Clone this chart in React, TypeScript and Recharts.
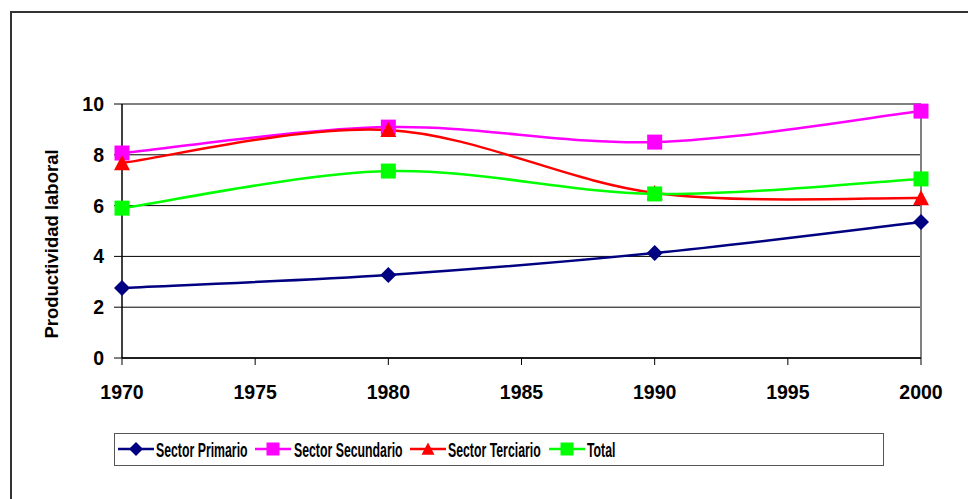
import React from "react";
import {
  LineChart,
  Line,
  XAxis,
  YAxis,
  CartesianGrid,
  ReferenceLine,
} from "recharts";

// datos
const years = [1970, 1980, 1990, 2000];
const primario = [2.76, 3.27, 4.13, 5.35];
const secundario = [8.07, 9.09, 8.5, 9.72];
const terciario = [7.68, 8.98, 6.5, 6.3];
const total = [5.9, 7.36, 6.46, 7.05];
const xTicks = [1970, 1975, 1980, 1985, 1990, 1995, 2000];
const yTicks = [0, 2, 4, 6, 8, 10];

const data = years.map((year, i) => ({
  year,
  primario: primario[i],
  secundario: secundario[i],
  terciario: terciario[i],
  total: total[i],
}));

const COLORS = {
  primario: "#000080",
  secundario: "#FF00FF",
  terciario: "#FF0000",
  total: "#00FF00",
};

const FONT = "'Liberation Sans', Arial, sans-serif";

// suavizado tipo Excel (Catmull-Rom)
const excelSmooth = (context: any) => {
  let pts: [number, number][] = [];
  return {
    areaStart() {},
    areaEnd() {},
    lineStart() {
      pts = [];
    },
    point(x: number, y: number) {
      pts.push([+x, +y]);
    },
    lineEnd() {
      if (!pts.length) return;
      context.moveTo(pts[0][0], pts[0][1]);
      for (let i = 0; i < pts.length - 1; i++) {
        const p0 = pts[i - 1] || pts[i];
        const p1 = pts[i];
        const p2 = pts[i + 1];
        const p3 = pts[i + 2] || pts[i + 1];
        context.bezierCurveTo(
          p1[0] + (p2[0] - p0[0]) / 6,
          p1[1] + (p2[1] - p0[1]) / 6,
          p2[0] - (p3[0] - p1[0]) / 6,
          p2[1] - (p3[1] - p1[1]) / 6,
          p2[0],
          p2[1]
        );
      }
    },
  };
};

type Shape = "diamond" | "square" | "triangle";

function markerPath(shape: Shape, cx: number, cy: number, r: number) {
  if (shape === "diamond")
    return `M${cx} ${cy - r}L${cx + r} ${cy}L${cx} ${cy + r}L${cx - r} ${cy}Z`;
  if (shape === "triangle")
    return `M${cx} ${cy - r}L${cx + r} ${cy + r * 0.9}L${cx - r} ${cy + r * 0.9}Z`;
  return `M${cx - r} ${cy - r}H${cx + r}V${cy + r}H${cx - r}Z`;
}

const makeDot = (shape: Shape, color: string, r: number) => (props: any) => {
  const { cx, cy, index } = props;
  if (cx == null || cy == null) return <g key={index} />;
  return <path key={index} d={markerPath(shape, cx, cy, r)} fill={color} />;
};

// la leyenda del original está comprimida en horizontal
const LEGEND_SCALE_X = 0.615;

const legendItems = [
  { name: "Sector Primario", color: COLORS.primario, shape: "diamond" as Shape, lx: 118, tx: 156 },
  { name: "Sector Secundario", color: COLORS.secundario, shape: "square" as Shape, lx: 255, tx: 294 },
  { name: "Sector Terciario", color: COLORS.terciario, shape: "triangle" as Shape, lx: 410, tx: 448 },
  { name: "Total", color: COLORS.total, shape: "square" as Shape, lx: 549, tx: 587 },
];

function ChartLegend() {
  return (
    <svg
      width={968}
      height={499}
      style={{ position: "absolute", left: 0, top: 0, pointerEvents: "none" }}
    >
      <rect x={114.5} y={433.5} width={769} height={32} fill="#fff" stroke="#555" strokeWidth={1} />
      {legendItems.map((item) => (
        <g key={item.name}>
          <line x1={item.lx} x2={item.lx + 36} y1={449} y2={449} stroke={item.color} strokeWidth={2.5} />
          <path d={markerPath(item.shape, item.lx + 18, 449, item.shape === "diamond" ? 7 : 6.5)} fill={item.color} />
          <text
            transform={`translate(${item.tx}, 456.5) scale(${LEGEND_SCALE_X}, 1)`}
            fontFamily={FONT}
            fontWeight="bold"
            fontSize={20}
            fill="#000"
          >
            {item.name}
          </text>
        </g>
      ))}
    </svg>
  );
}

const YLabel = () => (
  <text
    x={58}
    y={244}
    transform="rotate(-90, 58, 244)"
    textAnchor="middle"
    fontFamily={FONT}
    fontWeight="bold"
    fontSize={18.5}
    fill="#000"
  >
    Productividad laboral
  </text>
);

export default function App() {
  const tickStyle = { fill: "#000", fontSize: 19.5, fontWeight: "bold", fontFamily: FONT };
  return (
    <div style={{ position: "relative", width: 968, height: 499, overflow: "hidden", background: "#fff" }}>
      <style>{"body{margin:0}"}</style>
      <div
        style={{
          position: "absolute",
          left: 10,
          top: 11,
          width: 1200,
          height: 800,
          borderLeft: "2px solid #333",
          borderTop: "2px solid #333",
        }}
      />
      <div style={{ position: "absolute", left: 0, top: 0 }}>
        <LineChart width={968} height={499} data={data} margin={{ top: 104, right: 47, bottom: 101, left: 0 }}>
          <CartesianGrid vertical={false} stroke="#000" strokeWidth={1} />
          <XAxis
            dataKey="year"
            type="number"
            domain={[1970, 2000]}
            ticks={xTicks}
            height={40}
            tick={tickStyle}
            tickSize={7}
            tickMargin={20}
            stroke="#000"
            axisLine={{ stroke: "#000", strokeWidth: 1.5 }}
            tickLine={{ stroke: "#000", strokeWidth: 1 }}
          />
          <YAxis
            domain={[0, 10]}
            ticks={yTicks}
            width={122}
            tick={tickStyle}
            tickSize={8}
            tickMargin={10}
            axisLine={{ stroke: "#000", strokeWidth: 1.5 }}
            tickLine={{ stroke: "#000", strokeWidth: 1 }}
            label={<YLabel />}
          />
          <ReferenceLine y={10} stroke="#808080" strokeWidth={2} />
          <ReferenceLine x={2000} stroke="#808080" strokeWidth={2} />
          <Line
            dataKey="primario"
            name="Sector Primario"
            type={excelSmooth as any}
            stroke={COLORS.primario}
            strokeWidth={2.5}
            dot={makeDot("diamond", COLORS.primario, 8)}
            isAnimationActive={false}
          />
          <Line
            dataKey="secundario"
            name="Sector Secundario"
            type={excelSmooth as any}
            stroke={COLORS.secundario}
            strokeWidth={2.5}
            dot={makeDot("square", COLORS.secundario, 7.5)}
            isAnimationActive={false}
          />
          <Line
            dataKey="terciario"
            name="Sector Terciario"
            type={excelSmooth as any}
            stroke={COLORS.terciario}
            strokeWidth={2.5}
            dot={makeDot("triangle", COLORS.terciario, 8)}
            isAnimationActive={false}
          />
          <Line
            dataKey="total"
            name="Total"
            type={excelSmooth as any}
            stroke={COLORS.total}
            strokeWidth={2.5}
            dot={makeDot("square", COLORS.total, 7.5)}
            isAnimationActive={false}
          />
        </LineChart>
      </div>
      <ChartLegend />
    </div>
  );
}
